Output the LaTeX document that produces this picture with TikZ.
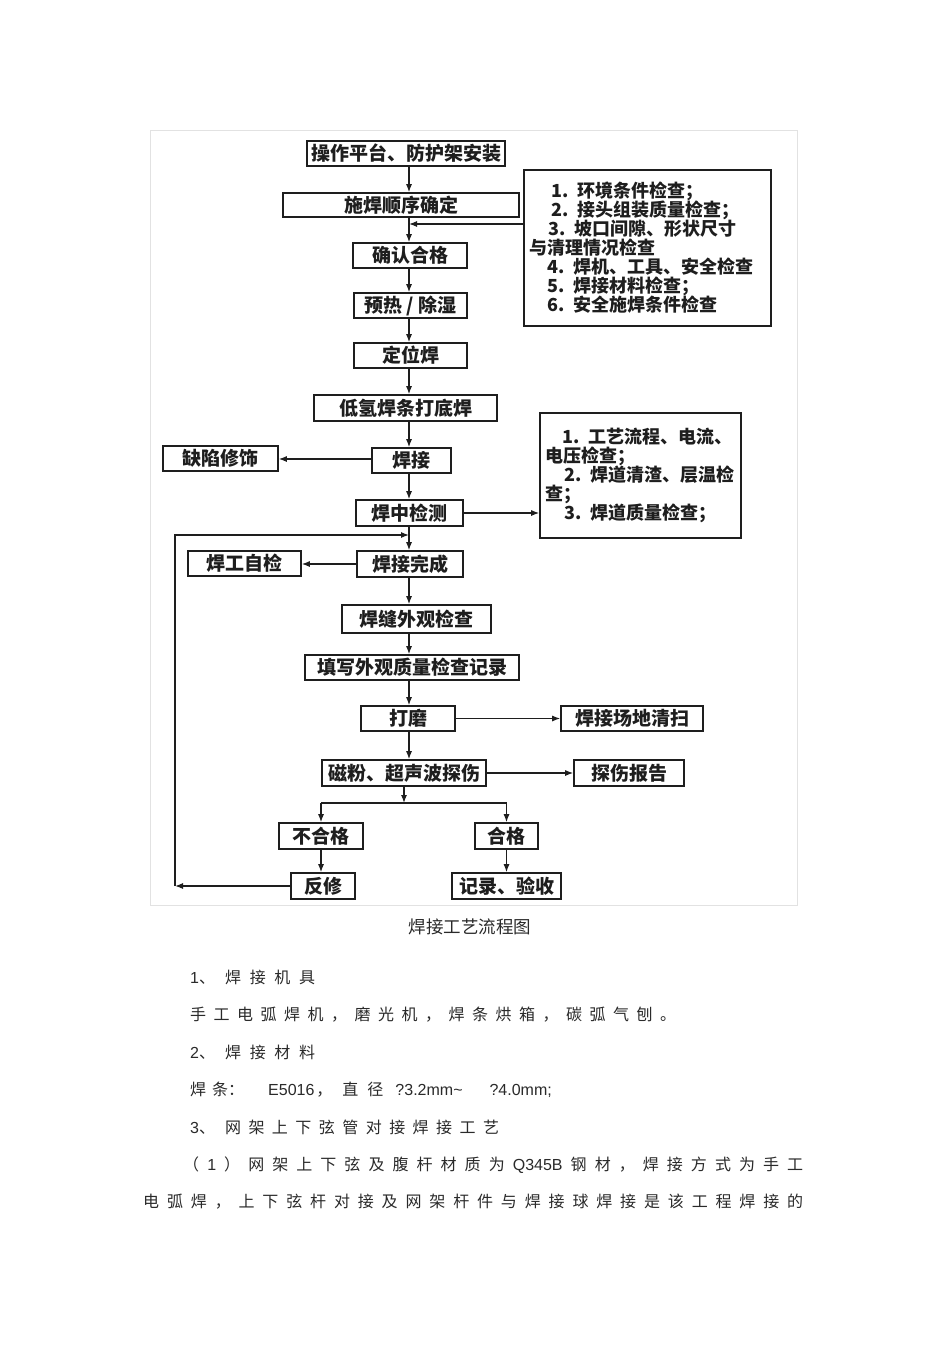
\documentclass[tikz,border=0pt]{standalone}
\usepackage{fontspec}
\usetikzlibrary{arrows.meta,calc}
\newfontfamily\cjk{Noto Sans CJK SC}
\newfontfamily\lat{Liberation Sans}
\definecolor{ink}{HTML}{1E1E1E}
\definecolor{bodyc}{HTML}{2A2A2A}
\definecolor{framec}{HTML}{E2E2E2}
\def\jA#1{#1\jB}
\def\jB#1{\ifx\relax#1\else\hfill#1\expandafter\jB\fi}
\newcommand\jline[2]{\makebox[#1][l]{\jA#2\relax}}
\begin{document}
\begin{tikzpicture}[x=1pt,y=-1pt,
  box/.style={draw=ink, line width=1.6pt, inner sep=0pt, text=ink,
    font=\cjk\bfseries\fontsize{19}{19}\selectfont},
  note/.style={draw=ink, line width=1.6pt, inner sep=5pt, text=ink, align=left,
    font=\cjk\bfseries\fontsize{18}{19}\selectfont},
  arr/.style={draw=ink, line width=1.2pt, -{Latex[length=8pt,width=6pt]}},
  ln/.style={draw=ink, line width=1.2pt},
  body/.style={anchor=west, inner sep=0pt, text=bodyc,
    font=\cjk\fontsize{16}{16}\selectfont}]
\useasboundingbox (0,0) rectangle (950,1345);
\fill[white] (0,0) rectangle (950,1345);
\draw[framec, line width=0.8pt] (150,130) rectangle (797,905);

% spine boxes
\node[box, minimum width=198pt, minimum height=25pt] (b1) at (406,153.5) {操作平台、防护架安装};
\node[box, minimum width=236pt, minimum height=24pt] (b2) at (401,205) {施焊顺序确定};
\node[box, minimum width=114pt, minimum height=25pt] (b3) at (410,255.5) {确认合格};
\node[box, minimum width=113pt, minimum height=25pt] (b4) at (410.5,305.5) {预热 / 除湿};
\node[box, minimum width=113pt, minimum height=25pt] (b5) at (410.5,355.5) {定位焊};
\node[box, minimum width=183pt, minimum height=26pt] (b6) at (405.5,408) {低氢焊条打底焊};
\node[box, minimum width=79pt, minimum height=25pt] (b7) at (411.5,460.5) {焊接};
\node[box, minimum width=115pt, minimum height=25pt] (dx) at (220.5,458.5) {缺陷修饰};
\node[box, minimum width=107pt, minimum height=26pt] (b8) at (409.5,513) {焊中检测};
\node[box, minimum width=106pt, minimum height=26pt] (b9) at (410,564) {焊接完成};
\node[box, minimum width=113pt, minimum height=25pt] (zj) at (244.5,563.5) {焊工自检};
\node[box, minimum width=149pt, minimum height=28pt] (b10) at (416.5,619) {焊缝外观检查};
\node[box, minimum width=214pt, minimum height=25pt] (b11) at (412,667.5) {填写外观质量检查记录};
\node[box, minimum width=94pt, minimum height=25pt] (b12) at (408,718.5) {打磨};
\node[box, minimum width=142pt, minimum height=25pt] (qs) at (632,718.5) {焊接场地清扫};
\node[box, minimum width=164pt, minimum height=26pt] (b13) at (404,773) {磁粉、超声波探伤};
\node[box, minimum width=110pt, minimum height=26pt] (bg) at (629,773) {探伤报告};
\node[box, minimum width=84pt, minimum height=26pt] (bhg) at (321,836) {不合格};
\node[box, minimum width=63pt, minimum height=26pt] (hg) at (506.5,836) {合格};
\node[box, minimum width=64pt, minimum height=26pt] (fx) at (323,886) {反修};
\node[box, minimum width=109pt, minimum height=26pt] (ys) at (506.5,886) {记录、验收};

% note boxes
\node[note, minimum width=247pt, minimum height=156pt, text width=236pt] (r1) at (647.5,248) {%
\hspace*{22pt}1. 环境条件检查；\\
\hspace*{22pt}2. 接头组装质量检查；\\
\hspace*{19pt}3. 坡口间隙、形状尺寸\\
与清理情况检查\\
\hspace*{18pt}4. 焊机、工具、安全检查\\
\hspace*{18pt}5. 焊接材料检查；\\
\hspace*{18pt}6. 安全施焊条件检查};
\node[note, minimum width=201pt, minimum height=125pt, text width=190pt, inner sep=5.5pt] (r2) at (640.5,475.5) {%
\hspace*{17pt}1. 工艺流程、电流、\\
电压检查；\\
\hspace*{19pt}2. 焊道清渣、层温检\\
查；\\
\hspace*{19pt}3. 焊道质量检查；};

% spine connectors
\coordinate (sp) at (409,0);
\coordinate (j1) at (409,224);
\coordinate (j2) at (409,535);
\draw[arr] (b1.south -| sp) -- (b2.north -| sp);
\draw[arr] (b2.south -| sp) -- (b3.north -| sp);
\draw[arr] (r1.west |- j1) -- (j1);
\draw[arr] (b3.south -| sp) -- (b4.north -| sp);
\draw[arr] (b4.south -| sp) -- (b5.north -| sp);
\draw[arr] (b5.south -| sp) -- (b6.north -| sp);
\draw[arr] (b6.south -| sp) -- (b7.north -| sp);
\draw[arr] (b7.south -| sp) -- (b8.north -| sp);
\draw[arr] (b8.south -| sp) -- (b9.north -| sp);
\draw[arr] (b9.south -| sp) -- (b10.north -| sp);
\draw[arr] (b10.south -| sp) -- (b11.north -| sp);
\draw[arr] (b11.south -| sp) -- (b12.north -| sp);
\draw[arr] (b12.south -| sp) -- (b13.north -| sp);

% side connectors
\draw[arr] (b7.west |- 0,459) -- (dx.east |- 0,459);
\draw[arr] (b8.east) -- (b8.east -| r2.west);
\draw[arr] (b9.west) -- (b9.west -| zj.east);
\draw[arr] (b12.east) -- (b12.east -| qs.west);
\draw[arr] (b13.east) -- (b13.east -| bg.west);

% branch
\coordinate (br) at (404,803);
\draw[arr] (b13.south) -- (br);
\draw[ln] (br -| bhg) -- (br -| hg);
\draw[arr] (br -| bhg) -- (bhg.north);
\draw[arr] (br -| hg) -- (hg.north);
\draw[arr] (bhg.south) -- (bhg.south |- fx.north);
\draw[arr] (hg.south) -- (ys.north);

% loop back
\coordinate (lb) at (175,886);
\coordinate (lt) at (175,535);
\draw[arr] (fx.west) -- (lb);
\draw[arr] (lb) -- (lt) -- (j2);

% caption and body text
\node[inner sep=0pt, text=bodyc, font=\cjk\fontsize{17.5}{17.5}\selectfont] (cap) at (470,927) {焊接工艺流程图};
\node[body] (t1) at (190,977) {{\lat 1}、\hspace{10pt}\jline{90pt}{焊接机具}};
\node[body] (t2) at (190,1015) {\jline{486pt}{手工电弧焊机，磨光机，焊条烘箱，碳弧气刨。}};
\node[body] (t3) at (190,1052) {{\lat 2}、\hspace{10pt}\jline{90pt}{焊接材料}};
\node[body] (t4) at (190,1090) {焊\hspace{6pt}条：\hspace{24pt}{\lat E5016}\hspace{2pt}，\hspace{10pt}直\hspace{9pt}径\hspace{12pt}{\lat ?3.2mm\textasciitilde}\hspace{27pt}{\lat ?4.0mm;}};
\node[body] (t5) at (190,1127) {{\lat 3}、\hspace{10pt}\jline{274pt}{网架上下弦管对接焊接工艺}};
\node[body] (t6) at (183,1165) {\jline{620pt}{（{{\lat 1}}）网架上下弦及腹杆材质为{{\lat Q345B}}钢材，焊接方式为手工}};
\node[body] (t7) at (143,1202) {\jline{660pt}{电弧焊，上下弦杆对接及网架杆件与焊接球焊接是该工程焊接的}};
\end{tikzpicture}
\end{document}
